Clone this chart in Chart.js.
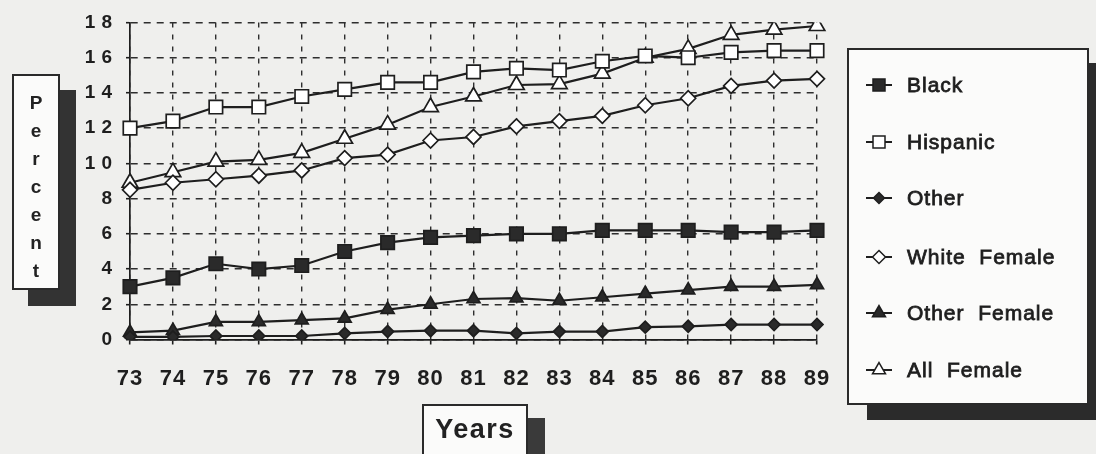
<!DOCTYPE html>
<html><head><meta charset="utf-8">
<script src="https://cdn.jsdelivr.net/npm/chart.js@4.4.1/dist/chart.umd.min.js"></script>
<style>
html,body{margin:0;padding:0;background:#efefed;width:1096px;height:454px;overflow:hidden;font-family:"Liberation Sans",Arial,sans-serif;color:#222}
#wrap{position:relative;width:1096px;height:454px;overflow:hidden}
#c{position:absolute;left:0;top:0}
.box{position:absolute;background:#fbfbfa;border:2px solid #2a2a2a;box-sizing:border-box}
#ylab{left:12px;top:74px;width:48px;height:216px;box-shadow:16px 16px 0 #333;padding-top:13px}
#ylab span{display:block;text-align:center;font-weight:bold;font-size:19px;line-height:28px;height:28px}
#xlab{left:422px;top:404px;width:106px;height:70px;box-shadow:17px 14px 0 #3a3a3a;padding-top:10px;text-align:center;font-weight:bold;font-size:27px;line-height:27px;letter-spacing:1.5px}
#legend{left:847px;top:48px;width:242px;height:357px;box-shadow:20px 15px 0 #2b2b2b}
.item{position:absolute;left:13px;height:24px;width:225px}
.item svg{position:absolute;left:0;top:2px}
.item span{position:absolute;left:45px;top:0;font-size:21px;line-height:24px;white-space:pre;letter-spacing:1px;-webkit-text-stroke:0.8px #1e1e1e;color:#1e1e1e}
</style>
</head><body>
<div id="wrap">
<canvas id="c" width="1096" height="454"></canvas>
<div id="ylab" class="box"></div>
<div id="xlab" class="box">Years</div>
<div id="legend" class="box"></div>
</div>
<script>
// ---- data ----
const years = ['73','74','75','76','77','78','79','80','81','82','83','84','85','86','87','88','89'];
const seriesNames = ['Black','Hispanic','Other','White  Female','Other  Female','All  Female'];
const black        = [3.0, 3.5, 4.3, 4.0, 4.2, 5.0, 5.5, 5.8, 5.9, 6.0, 6.0, 6.2, 6.2, 6.2, 6.1, 6.1, 6.2];
const hispanic     = [12.0, 12.4, 13.2, 13.2, 13.8, 14.2, 14.6, 14.6, 15.2, 15.4, 15.3, 15.8, 16.1, 16.0, 16.3, 16.4, 16.4];
const other        = [0.15, 0.15, 0.2, 0.2, 0.2, 0.35, 0.45, 0.5, 0.5, 0.35, 0.45, 0.45, 0.7, 0.75, 0.85, 0.85, 0.85];
const whiteFemale  = [8.5, 8.9, 9.1, 9.3, 9.6, 10.3, 10.5, 11.3, 11.5, 12.1, 12.4, 12.7, 13.3, 13.7, 14.4, 14.7, 14.8];
const otherFemale  = [0.4, 0.5, 1.0, 1.0, 1.1, 1.2, 1.7, 2.0, 2.3, 2.35, 2.2, 2.4, 2.6, 2.8, 3.0, 3.0, 3.1];
const allFemale    = [8.9, 9.5, 10.1, 10.2, 10.6, 11.4, 12.2, 13.2, 13.8, 14.45, 14.5, 15.1, 16.0, 16.5, 17.3, 17.6, 17.8];
const yAxisTitle = 'Percent';
const xAxisTitle = 'Years';

// ---- styles ----
const INK = '#1e1e1e';
const FILL = '#2a2a2a';
const styles = [
  {pointStyle:'rect', radius:9.5, filled:true},
  {pointStyle:'rect', radius:9.5, filled:false},
  {pointStyle:'rectRot', radius:6, filled:true},
  {pointStyle:'rectRot', radius:7.5, filled:false},
  {pointStyle:'triangle', radius:7.5, filled:true},
  {pointStyle:'triangle', radius:9, filled:false}
];
const allData = [black, hispanic, other, whiteFemale, otherFemale, allFemale];

const datasets = allData.map((d, i) => ({
  label: seriesNames[i],
  data: d,
  borderColor: INK,
  borderWidth: 2.2,
  tension: 0,
  fill: false,
  pointStyle: styles[i].pointStyle,
  pointRadius: styles[i].radius,
  pointHoverRadius: styles[i].radius,
  pointBackgroundColor: styles[i].filled ? FILL : '#ffffff',
  pointBorderColor: INK,
  pointBorderWidth: 1.7
}));

// letter spacing for tick labels
const spacingPlugin = {
  id: 'spacing',
  beforeDraw(chart) {
    [['x','1px'],['y','6px']].forEach(([id, sp]) => {
      const s = chart.scales[id];
      if (s && !s._spPatched) {
        const orig = s.drawLabels;
        s.drawLabels = function(area) {
          const c = this.ctx; c.save(); c.letterSpacing = sp; orig.call(this, area); c.restore();
        };
        s._spPatched = true;
      }
    });
  }
};

new Chart(document.getElementById('c'), {
  type: 'line',
  data: { labels: years, datasets },
  plugins: [spacingPlugin],
  options: {
    responsive: false,
    animation: false,
    devicePixelRatio: 1,
    layout: { padding: { left: 0, right: 279, top: 22.5, bottom: 0 } },
    plugins: { legend: { display: false }, tooltip: { enabled: false } },
    scales: {
      x: {
        type: 'category',
        offset: false,
        afterFit(scale) { scale.height = 114.5; },
        grid: { color: '#2e2e2e', lineWidth: 1.4, tickLength: 5, tickColor: INK, tickWidth: 1.6 },
        border: { display: true, color: INK, width: 1.7, dash: [5, 7] },
        ticks: { color: '#1e1e1e', padding: 21, maxRotation: 0, autoSkip: false,
                 font: { family: '"Liberation Sans", Arial, sans-serif', size: 22, weight: 'bold' } }
      },
      y: {
        min: 0, max: 18,
        afterFit(scale) { scale.width = 130; },
        grid: { color: '#2e2e2e', lineWidth: 1.4, tickLength: 4, tickColor: INK, tickWidth: 1.6 },
        border: { display: true, color: INK, width: 1.7, dash: [7, 6] },
        ticks: { stepSize: 2, color: '#1e1e1e', padding: 8,
                 font: { family: '"Liberation Sans", Arial, sans-serif', size: 19, weight: 'bold' } }
      }
    }
  }
});

// ---- axis titles & legend (HTML) ----
const ylab = document.getElementById('ylab');
for (const ch of yAxisTitle) { const s = document.createElement('span'); s.textContent = ch; ylab.appendChild(s); }
document.getElementById('xlab').textContent = xAxisTitle;

function symbolSVG(st) {
  const fill = st.filled ? FILL : '#ffffff';
  let shape = '';
  if (st.pointStyle === 'rect') shape = `<rect x="11" y="4" width="12" height="12" fill="${fill}" stroke="${INK}" stroke-width="1.5"/>`;
  else if (st.pointStyle === 'rectRot') { const r = st.filled ? 5.5 : 6.5; shape = `<polygon points="17,${10-r} ${17+r},10 17,${10+r} ${17-r},10" fill="${fill}" stroke="${INK}" stroke-width="1.5"/>`; }
  else { const r = 7.5; const h = r*Math.sqrt(3)/2; shape = `<polygon points="17,${10-r} ${17+h},${10+r/2} ${17-h},${10+r/2}" fill="${fill}" stroke="${INK}" stroke-width="1.5"/>`; }
  return `<svg width="36" height="20" viewBox="0 0 36 20"><line x1="4" y1="10" x2="30" y2="10" stroke="${INK}" stroke-width="2"/>${shape}</svg>`;
}
const legendCenters = [85, 142, 198, 257, 313, 370];
const legend = document.getElementById('legend');
seriesNames.forEach((name, i) => {
  const d = document.createElement('div');
  d.className = 'item';
  d.style.top = (legendCenters[i] - 11.7 - 50) + 'px';
  d.innerHTML = symbolSVG(styles[i]) + '<span></span>';
  d.querySelector('span').textContent = name;
  legend.appendChild(d);
});
</script>
</body></html>
